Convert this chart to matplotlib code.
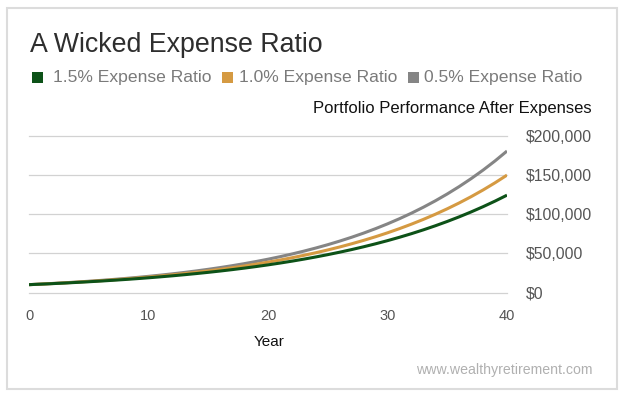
import matplotlib
matplotlib.use("Agg")
import matplotlib.pyplot as plt
from matplotlib.patches import Rectangle
from matplotlib.ticker import FuncFormatter

# portfolio value by year, $10,000 start
years = list(range(0, 41))
ratio_05 = [10000, 10750, 11560, 12420, 13360, 14360, 15430, 16590, 17840, 19170,
            20610, 22160, 23820, 25600, 27520, 29590, 31810, 34190, 36760, 39520,
            42480, 45660, 49090, 52770, 56730, 60980, 65560, 70470, 75760, 81440,
            87550, 94120, 101170, 108760, 116920, 125690, 135120, 145250, 156140, 167850,
            180440]
ratio_10 = [10000, 10700, 11450, 12250, 13110, 14030, 15010, 16060, 17180, 18390,
            19670, 21050, 22520, 24100, 25790, 27590, 29520, 31590, 33800, 36170,
            38700, 41410, 44300, 47410, 50720, 54270, 58070, 62140, 66490, 71140,
            76120, 81450, 87150, 93250, 99780, 106770, 114240, 122240, 130790, 139950,
            149750]
ratio_15 = [10000, 10650, 11340, 12080, 12870, 13700, 14590, 15540, 16550, 17630,
            18770, 19990, 21290, 22680, 24150, 25720, 27390, 29170, 31070, 33090,
            35240, 37530, 39970, 42560, 45330, 48280, 51420, 54760, 58320, 62110,
            66140, 70440, 75020, 79900, 85090, 90620, 96510, 102790, 109470, 116580,
            124160]

series_names = ["1.5% Expense Ratio", "1.0% Expense Ratio", "0.5% Expense Ratio"]
series_colors = ["#0d5218", "#d59a42", "#858585"]
x_ticks = [0, 10, 20, 30, 40]
y_ticks = [0, 50000, 100000, 150000, 200000]

W, H = 624, 397
plt.rcParams['font.family'] = ['Liberation Sans', 'DejaVu Sans']

fig = plt.figure(figsize=(W / 100, H / 100), dpi=100)
fig.patch.set_facecolor("white")

def fx(px):
    return px / W

def fy(py):
    return 1 - py / H

# outer card border
fig.patches.append(Rectangle((fx(7), fy(389)), fx(617) - fx(7), fy(8) - fy(389),
                             transform=fig.transFigure, fill=False,
                             edgecolor="#dcdcdc", linewidth=1.5))

ax = fig.add_axes([fx(29), fy(292.5), fx(507) - fx(29), fy(135.7) - fy(292.5)])

# draw gray first so green ends up on top
ax.plot(years, ratio_05, color=series_colors[2], lw=2.2, solid_capstyle="butt")
ax.plot(years, ratio_10, color=series_colors[1], lw=2.2, solid_capstyle="butt")
ax.plot(years, ratio_15, color=series_colors[0], lw=2.2, solid_capstyle="butt")

ax.set_xlim(0, 40)
ax.set_ylim(0, 200000)
ax.set_xticks(x_ticks)
ax.set_yticks(y_ticks)
ax.yaxis.set_major_formatter(FuncFormatter(lambda v, p: "${:,.0f}".format(v)))
ax.yaxis.tick_right()
ax.tick_params(axis="y", length=0, pad=13.5, labelsize=11.3, labelcolor="#555555")
ax.tick_params(axis="x", length=0, pad=12, labelsize=10.5, labelcolor="#555555")
for lab in ax.get_yticklabels():
    lab.set_horizontalalignment("left")
ax.grid(axis="y", color="#d2d2d2", lw=0.9)
for gl in ax.get_ygridlines():
    gl.set_clip_on(False)
ax.set_axisbelow(True)
for s in ax.spines.values():
    s.set_visible(False)

# title, legend, labels
fig.text(fx(30), fy(52), "A Wicked Expense Ratio", fontsize=19.3, color="#2e2e2e",
         ha="left", va="baseline")

sq_x = [32, 222, 408]
txt_x = [53, 239, 424]
for i in range(3):
    fig.patches.append(Rectangle((fx(sq_x[i]), fy(83)), fx(11), fy(72) - fy(83),
                                 transform=fig.transFigure, color=series_colors[i], lw=0))
    fig.text(fx(txt_x[i]), fy(77.5), series_names[i], fontsize=12.6, color="#7a7a7a",
             ha="left", va="center")

fig.text(fx(592), fy(109), "Portfolio Performance After Expenses", fontsize=12,
         color="#111111", ha="right", va="center")
fig.text(fx(269), fy(342), "Year", fontsize=11, color="#111111", ha="center", va="center")
fig.text(fx(593), fy(370), "www.wealthyretirement.com", fontsize=10.2, color="#b0b0b0",
         ha="right", va="center")

fig.savefig("out.png", dpi=100)
